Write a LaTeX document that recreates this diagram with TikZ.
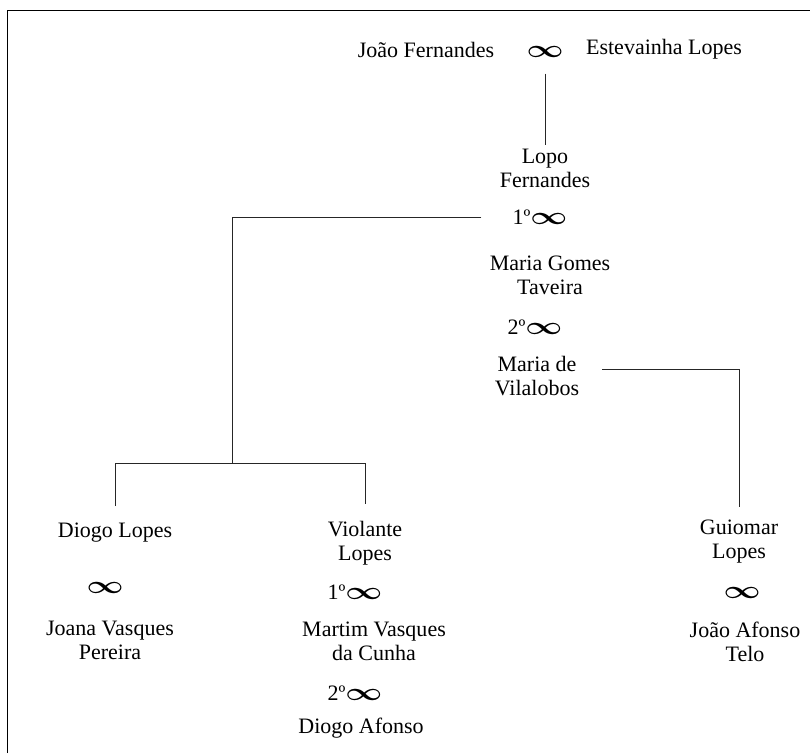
\documentclass[tikz,border=0pt]{standalone}
\usepackage{amsmath}
\usepackage{fontspec}
\setmainfont{Liberation Serif}
\newcommand{\casam}{\scalebox{1.55}[1.2]{$\boldsymbol{\infty}$}}
\tikzset{pessoa/.style={align=center,font=\fontsize{22}{24}\selectfont,inner sep=3pt},
  ligacao/.style={line width=0.9pt,black!85}}

\begin{document}
\begin{tikzpicture}[x=1pt,y=-1pt]
  \useasboundingbox (0,0) rectangle (810,753);
  \draw[line width=1.2pt] (7.5,753) -- (7.5,10.5) -- (810,10.5);
  % first generation
  \node[pessoa] (jf) at (426,50) {João Fernandes};
  \node[pessoa] (c0) at (545,52) {\casam};
  \node[pessoa] (el) at (664,49) {Estevainha Lopes};
  \node[pessoa] (lf) at (545,168) {Lopo\\Fernandes};
  \node[pessoa] (c1) at (540,217) {1º\casam};
  \node[pessoa] (mgt) at (550,275) {Maria Gomes\\Taveira};
  \node[pessoa] (c2) at (535,327) {2º\casam};
  \node[pessoa] (mv) at (537,376) {Maria de\\Vilalobos};
  % children
  \node[pessoa] (dl) at (115,533) {Diogo Lopes};
  \node[pessoa] (c3) at (105,588) {\casam};
  \node[pessoa] (jvp) at (110,640) {Joana Vasques\\Pereira};
  \node[pessoa] (vl) at (365,543) {Violante\\Lopes};
  \node[pessoa] (c4) at (355,592) {1º\casam};
  \node[pessoa] (mvc) at (374,641) {Martim Vasques\\da Cunha};
  \node[pessoa] (c5) at (355,693) {2º\casam};
  \node[pessoa] (da) at (361,728) {Diogo Afonso};
  \node[pessoa] (gl) at (739,542) {Guiomar\\Lopes};
  \node[pessoa] (c6) at (742,593) {\casam};
  \node[pessoa] (jat) at (745,642) {João Afonso\\Telo};
  \coordinate (bar1) at (232,463);

  \draw[ligacao,shorten <=13pt] (c0.south) -- (c0.south |- lf.north);
  \draw[ligacao,shorten <=28pt] (c1.west) -| (bar1);
  \draw[ligacao,shorten <=14pt,shorten >=14pt] (dl.north) |- (bar1) -| (vl.north);
  \draw[ligacao,shorten <=20pt,shorten >=10pt] ([yshift=7pt]mv.east) -| (gl.north);
\end{tikzpicture}
\end{document}
